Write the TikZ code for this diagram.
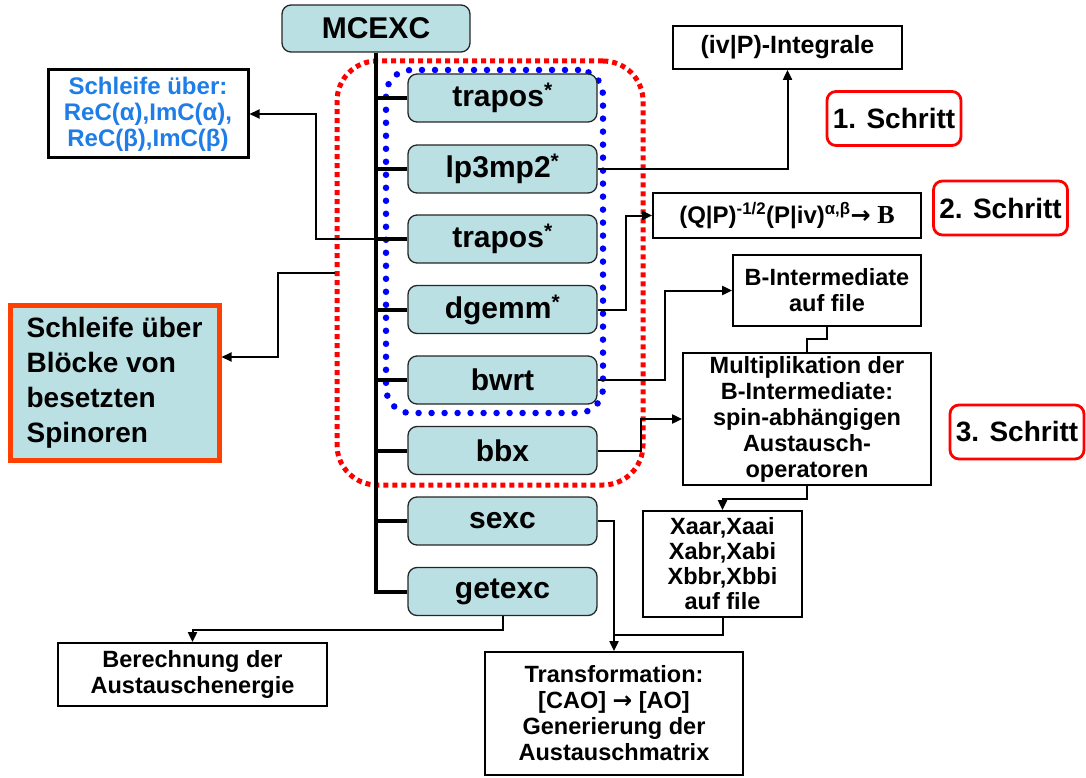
\documentclass[tikz,border=0pt]{standalone}
\usepackage{fontspec}
\setmainfont{Liberation Sans}
\newfontfamily\serifbf{Liberation Serif}
\newfontfamily\arrowfont{DejaVu Sans}
\newcommand{\barrow}{{\arrowfont\bfseries →}}
\usetikzlibrary{arrows.meta}
\definecolor{procblue}{RGB}{186,224,228}
\definecolor{txtblue}{RGB}{30,125,230}
\definecolor{orangered}{RGB}{255,64,0}
\definecolor{dotred}{RGB}{255,0,0}
\definecolor{dotblue}{RGB}{0,0,255}
\begin{document}
\begin{tikzpicture}[x=1pt,y=-1pt,
 proc/.style={draw=black!85, line width=1.3pt, fill=procblue, rounded corners=9pt, minimum width=189pt, minimum height=48pt, inner sep=0pt, font=\fontsize{30}{32}\selectfont\bfseries},
 wbox/.style={draw=black, line width=1.8pt, fill=white, inner sep=0pt, align=center, font=\fontsize{23.5}{26}\selectfont\bfseries},
 schritt/.style={draw=dotred, line width=2.8pt, rounded corners=9pt, inner sep=0pt, minimum width=134pt, minimum height=54pt, font=\fontsize{28}{30}\selectfont\bfseries},
 trunk/.style={line width=4pt},
 conn/.style={line width=2pt},
 arr/.style={conn, -{Triangle[length=10pt,width=9pt]}},
]
\useasboundingbox (0,0) rectangle (1086,778);

% dotted loops
\node[draw=dotred, line width=5pt, dash pattern=on 5pt off 4pt, rounded corners=40pt, minimum width=306pt, minimum height=424pt] (redloop) at (490,273) {};
\node[draw=dotblue, line width=6.5pt, line cap=round, dash pattern=on 0pt off 13pt, rounded corners=25pt, minimum width=217pt, minimum height=343pt] (blueloop) at (494.5,241.5) {};

% main boxes
\node[proc, minimum width=188pt, minimum height=47pt] (mcexc) at (376,28.5) {MCEXC};
\node[proc] (trapos1) at (502.5,98) {trapos\textsuperscript{*}};
\node[proc] (lp3mp2) at (502.5,169) {lp3mp2\textsuperscript{*}};
\node[proc] (trapos2) at (502.5,239) {trapos\textsuperscript{*}};
\node[proc] (dgemm) at (502.5,309.5) {dgemm\textsuperscript{*}};
\node[proc] (bwrt) at (502.5,380) {bwrt};
\node[proc] (bbx) at (502.5,450.5) {bbx};
\node[proc] (sexc) at (502.5,521) {sexc};
\node[proc] (getexc) at (502.5,591.5) {getexc};

% side boxes
\node[draw=black, line width=3pt, fill=white, inner sep=0pt, minimum width=200pt, minimum height=88pt, align=center, text=txtblue, font=\fontsize{24}{26}\selectfont\bfseries] (s1) at (148,114) {Schleife über:\\ReC(α),ImC(α),\\ReC(β),ImC(β)};
\node[draw=orangered, line width=5pt, fill=procblue, inner sep=0pt, minimum width=209pt, minimum height=155pt, align=left, font=\fontsize{28}{35}\selectfont\bfseries] (s2) at (114.5,382.5) {Schleife über\\Blöcke von\\besetzten\\Spinoren};

\node[wbox, minimum width=229pt, minimum height=43pt, font=\fontsize{25}{28}\selectfont\bfseries] (iv) at (787.5,47.5) {(iv|P)-Integrale};
\node[schritt] (st1) at (894,118.5) {1. Schritt};
\node[wbox, minimum width=268pt, minimum height=45pt, font=\fontsize{24}{27}\selectfont\bfseries] (qp) at (787,215.5) {(Q|P)\textsuperscript{-1/2}(P|iv)\textsuperscript{α,β}\barrow\ {\serifbf\fontsize{26}{27}\selectfont B}};
\node[schritt] (st2) at (1000.5,208) {2. Schritt};
\node[wbox, minimum width=188pt, minimum height=71pt] (bint) at (827,290.5) {B-Intermediate\\auf file};
\node[wbox, minimum width=248pt, minimum height=132pt] (mult) at (807,419) {Multiplikation der\\B-Intermediate:\\spin-abhängigen\\Austausch-\\operatoren};
\node[schritt] (st3) at (1017,432) {3. Schritt};
\node[wbox, minimum width=159pt, minimum height=106pt, font=\fontsize{23.5}{25}\selectfont\bfseries] (xaar) at (722.5,564) {Xaar,Xaai\\Xabr,Xabi\\Xbbr,Xbbi\\auf file};
\node[wbox, minimum width=258pt, minimum height=123pt] (trans) at (614,713.5) {Transformation:\\{}[CAO] \barrow\ [AO]\\Generierung der\\Austauschmatrix};
\node[wbox, minimum width=269pt, minimum height=63pt] (ber) at (192.5,674.5) {Berechnung der\\Austauschenergie};

% trunk and branches
\draw[trunk] (mcexc.south) |- (getexc.west);
\foreach \n in {trapos1,lp3mp2,trapos2,dgemm,bwrt,bbx,sexc}
  \draw[trunk] (mcexc.south |- \n.west) -- (\n.west);

% connectors
\draw[arr] (mcexc.south |- trapos2.west) -- ++(-60,0) |- (s1.east);
\draw[arr] (redloop.west) -- ++(-57,0) |- ([yshift=25.5pt]s2.east);
\draw[arr] (lp3mp2.east) -| (iv.south);
\draw[arr] (dgemm.east) -- ++(28,0) |- (qp.west);
\draw[arr] (bwrt.east) -- ++(67,0) |- (bint.west);
\draw[conn] (bint.south) -- ++(0,12) -| (mult.north);
\draw[arr] (bbx.east) -- ++(43,0) |- (mult.west);
\draw[arr] (mult.south) -- ++(0,13) -| (xaar.north);
\draw[arr] (sexc.east) -| (trans.north);
\draw[conn] (xaar.south) -- ++(0,17) -- ++(-108.5,0);
\draw[arr] (getexc.south) -- ++(0,14) -| (ber.north);
\end{tikzpicture}
\end{document}
